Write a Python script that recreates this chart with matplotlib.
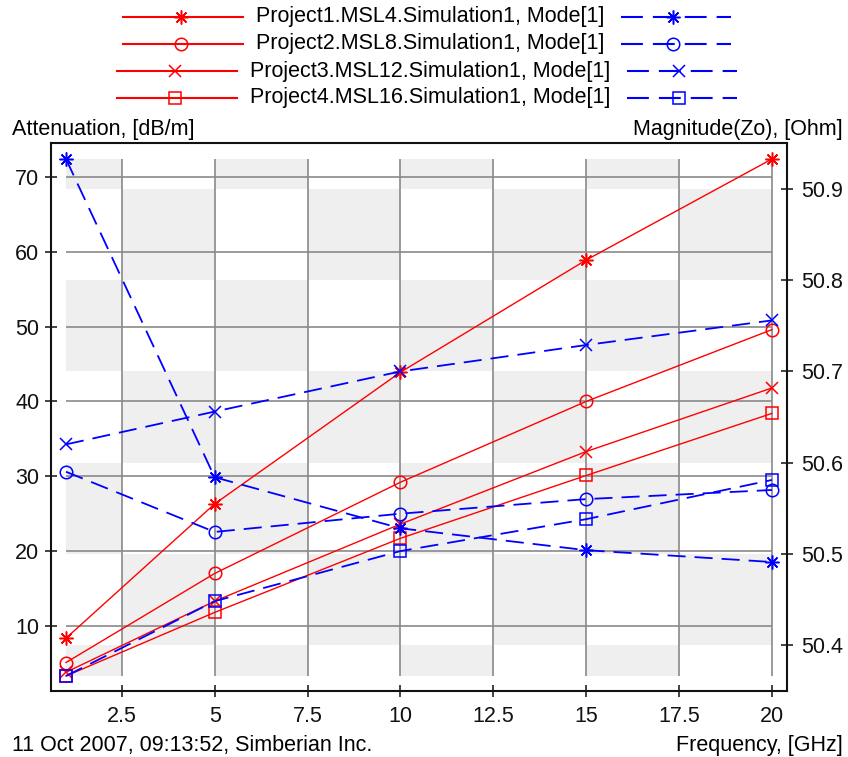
import numpy as np
import matplotlib
matplotlib.use("Agg")
import matplotlib.pyplot as plt
from matplotlib.lines import Line2D
from matplotlib.patches import Rectangle

plt.rcParams['font.family'] = ['Liberation Sans', 'DejaVu Sans']

# frequency points, GHz
freq = [1, 5, 10, 15, 20]

labels = ["Project1.MSL4.Simulation1, Mode[1]",
          "Project2.MSL8.Simulation1, Mode[1]",
          "Project3.MSL12.Simulation1, Mode[1]",
          "Project4.MSL16.Simulation1, Mode[1]"]

# attenuation, dB/m (left axis, red)
att_msl4 = [8.35, 26.3, 43.9, 58.9, 72.4]
att_msl8 = [5.1, 17.0, 29.2, 40.0, 49.6]
att_msl12 = [3.8, 13.3, 23.6, 33.3, 41.8]
att_msl16 = [3.3, 11.8, 21.7, 30.1, 38.4]

# |Zo|, Ohm (right axis, blue)
zo_msl4 = [50.933, 50.584, 50.528, 50.504, 50.491]
zo_msl8 = [50.590, 50.524, 50.544, 50.560, 50.570]
zo_msl12 = [50.620, 50.656, 50.700, 50.729, 50.756]
zo_msl16 = [50.366, 50.448, 50.503, 50.538, 50.581]

xticks = [2.5, 5, 7.5, 10, 12.5, 15, 17.5, 20]
lticks = [10, 20, 30, 40, 50, 60, 70]
rticks = [50.4, 50.5, 50.6, 50.7, 50.8, 50.9]

att = [att_msl4, att_msl8, att_msl12, att_msl16]
zo = [zo_msl4, zo_msl8, zo_msl12, zo_msl16]
mk = [(8, 2, 0), 'o', 'x', 's']
ms = [10, 9, 9, 8.5]

W, H = 848, 757
fig = plt.figure(figsize=(W / 100, H / 100), dpi=100)
# frame in pixels: left 51, right 787, top 143, bottom 691
ax = fig.add_axes([51 / W, 1 - 691 / H, 736 / W, 548 / H])
ax2 = ax.twinx()

RED = '#ff0000'
BLUE = '#0000ff'
GRIDC = '#8a8a8a'
FS = 15.5


def padded(lo, hi, pad_lo, pad_hi, span):
    k = (hi - lo) / span
    return lo - pad_lo * k, hi + pad_hi * k


xmin, xmax = min(freq), max(freq)
lmin, lmax = min(map(min, att)), max(map(max, att))
rmin, rmax = min(map(min, zo)), max(map(max, zo))

ax.set_xlim(*padded(xmin, xmax, 15, 15, 706))
ax.set_ylim(*padded(lmin, lmax, 15, 16, 517))
ax2.set_ylim(*padded(rmin, rmax, 15, 16, 517))

# checkerboard background (columns by x ticks, rows by right-axis ticks)
xb = [xmin] + [t for t in xticks if xmin < t < xmax] + [xmax]
rb = [rmin] + [t for t in rticks if rmin < t < rmax] + [rmax]
for i in range(len(xb) - 1):
    for j in range(len(rb) - 1):
        ci = int(np.floor((xb[i] + xb[i + 1]) / 2 / 2.5))
        rj = int(np.floor((rb[j] + rb[j + 1]) / 2 * 10))
        if (ci + rj) % 2 == 1:
            ax.add_patch(Rectangle((xb[i], rb[j]), xb[i + 1] - xb[i], rb[j + 1] - rb[j],
                                   facecolor='#efefef', edgecolor='none', zorder=0,
                                   transform=ax2.transData))

# grid only inside the data area
ax.vlines(xticks, lmin, lmax, colors=GRIDC, lw=1.2, zorder=1)
ax.hlines(lticks, xmin, xmax, colors=GRIDC, lw=1.2, zorder=1)

for a, m, s in zip(att, mk, ms):
    ax.plot(freq, a, color=RED, lw=1.0, marker=m, ms=s, mfc='none', mec=RED, mew=1.1, zorder=3)
for z, m, s in zip(zo, mk, ms):
    ax2.plot(freq, z, color=BLUE, lw=1.3, ls=(0, (10, 5)), marker=m, ms=s, mfc='none',
             mec=BLUE, mew=1.1, zorder=3)

ax.set_xticks(xticks)
ax.set_xticklabels(['%g' % t for t in xticks])
ax.set_yticks(lticks)
ax.set_yticklabels(['%d' % t for t in lticks])
ax2.set_yticks(rticks)
ax2.set_yticklabels(['%.1f' % t for t in rticks])

ax.tick_params(axis='both', direction='inout', length=9, width=1.1, labelsize=FS,
               colors='#111111')
ax.tick_params(axis='y', pad=4)
ax.tick_params(axis='x', pad=6)
ax2.tick_params(axis='y', direction='inout', length=9, width=1.1, labelsize=FS,
                colors='#111111', pad=6)
for sp in ax.spines.values():
    sp.set_linewidth(1.5)
    sp.set_color('#111111')
for sp in ax2.spines.values():
    sp.set_visible(False)

# axis captions
fig.text(12 / W, 1 - 129 / H, "Attenuation, [dB/m]", fontsize=FS, va='center', ha='left')
fig.text(843 / W, 1 - 129 / H, "Magnitude(Zo), [Ohm]", fontsize=FS, va='center', ha='right')
fig.text(12 / W, 1 - 745 / H, "11 Oct 2007, 09:13:52, Simberian Inc.", fontsize=FS,
         va='center', ha='left')
fig.text(843 / W, 1 - 745 / H, "Frequency, [GHz]", fontsize=FS, va='center', ha='right')

# legend rows: red sample, label, blue sample, centred as a row
renderer = fig.canvas.get_renderer()
row_y = [16.5, 44, 71, 98]
for lab, m, s, y in zip(labels, mk, ms, row_y):
    t = fig.text(0, 1 - y / H, lab, fontsize=FS, va='center', ha='left')
    w = t.get_window_extent(renderer).width
    total = 120 + 13 + w + 17 + 110
    x0 = 427 - total / 2
    t.set_x((x0 + 133) / W)
    fy = 1 - y / H
    fig.add_artist(Line2D([x0 / W, (x0 + 58) / W, (x0 + 120) / W], [fy] * 3,
                          transform=fig.transFigure, color=RED, lw=1.5, marker=m, ms=s,
                          markevery=[1], mfc='none', mec=RED, mew=1.1))
    bx = x0 + 133 + w + 17
    fig.add_artist(Line2D([bx / W, (bx + 52) / W, (bx + 110) / W], [fy] * 3,
                          transform=fig.transFigure, color=BLUE, lw=1.5, ls=(0, (10.5, 4.8)),
                          marker=m, ms=s, markevery=[1], mfc='none', mec=BLUE, mew=1.1))

fig.savefig('out.png', dpi=100)
